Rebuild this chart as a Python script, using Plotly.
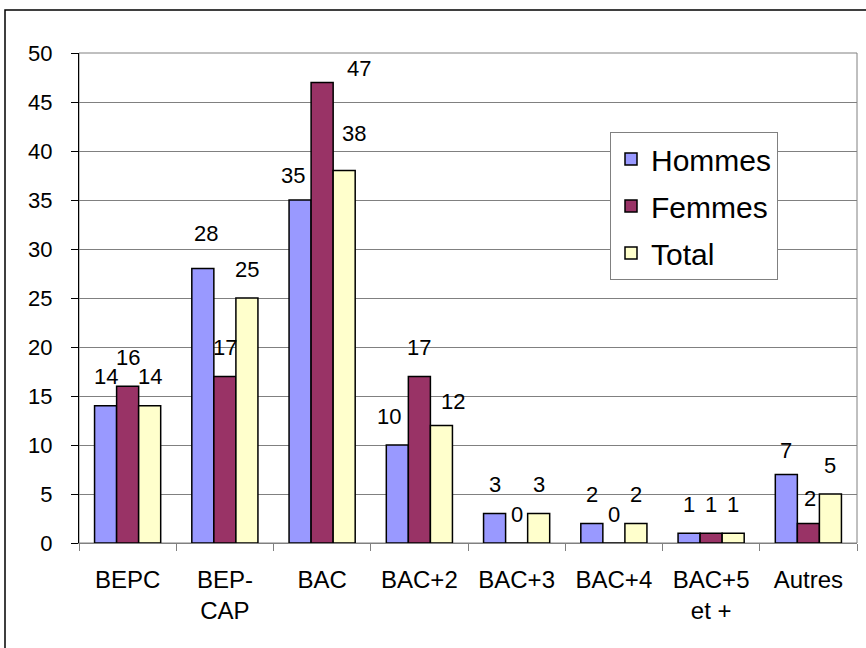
import plotly.graph_objects as go

categories = ["BEPC", "BEP-<br>CAP", "BAC", "BAC+2", "BAC+3", "BAC+4", "BAC+5<br>et +", "Autres"]
hommes = [14, 28, 35, 10, 3, 2, 1, 7]
femmes = [16, 17, 47, 17, 0, 0, 1, 2]
total = [14, 25, 38, 12, 3, 2, 1, 5]
series_names = ["Hommes", "Femmes", "Total"]
y_ticks = [0, 5, 10, 15, 20, 25, 30, 35, 40, 45, 50]

# label nudges (pixels) for data labels that were moved in the original: (category index, series index) -> (dx, dy)
label_nudges = {(1, 0): (3, 6), (2, 0): (-7, -4), (2, 1): (37, -15), (2, 2): (10, 8),
                (3, 0): (-8, 0), (3, 2): (12, -5), (7, 0): (0, -5), (7, 1): (2, -4)}

colors = ["#9999FF", "#993366", "#FFFFCC"]
FONT = "Liberation Sans, Arial, sans-serif"
W, H = 866, 648
L, R, T, B = 79, 9, 53, 105
PW, PH = W - L - R, H - T - B
BARGAP = 0.32

fig = go.Figure()
xs = list(range(len(categories)))
for k, (name, vals) in enumerate(zip(series_names, [hommes, femmes, total])):
    fig.add_trace(go.Bar(
        x=xs, y=vals, name=name, legendgroup=name,
        marker=dict(color=colors[k], line=dict(color="black", width=1.5)),
    ))

bw = (1 - BARGAP) / 3
annotations = []
for k, vals in enumerate([hommes, femmes, total]):
    for i, v in enumerate(vals):
        dx, dy = label_nudges.get((i, k), (0, 0))
        annotations.append(dict(
            x=i + (k - 1) * bw, y=v, xref="x", yref="y", text=str(v), showarrow=False,
            xanchor="center", yanchor="middle", xshift=dx, yshift=29 + dy,
            font=dict(family=FONT, size=22, color="black"),
        ))

def px_x(p):
    return (p - L) / PW

def px_y(p):
    return (H - B - p) / PH

shapes = [
    dict(type="rect", xref="paper", yref="paper", x0=0, x1=1, y0=0, y1=1,
         line=dict(color="#808080", width=1), layer="below"),
    dict(type="rect", xref="paper", yref="paper", x0=px_x(5), x1=px_x(872), y0=px_y(652), y1=px_y(10),
         line=dict(color="black", width=1.5), layer="below"),
]

fig.update_layout(
    width=W, height=H,
    margin=dict(l=L, r=R, t=T, b=B, pad=0),
    paper_bgcolor="white", plot_bgcolor="white",
    barmode="group", bargap=BARGAP, bargroupgap=0,
    font=dict(family=FONT, color="black"),
    annotations=annotations, shapes=shapes,
    legend=dict(
        x=px_x(610), y=px_y(132), xanchor="left", yanchor="top",
        bgcolor="white", bordercolor="#808080", borderwidth=1,
        font=dict(family=FONT, size=30, color="black"),
        traceorder="grouped", tracegroupgap=5,
    ),
    xaxis=dict(
        range=[-0.5, len(categories) - 0.5], tickmode="array", tickvals=xs, ticktext=categories,
        ticks="", showgrid=False, zeroline=False, showline=True, linecolor="#808080", linewidth=1,
        tickfont=dict(family=FONT, size=24, color="black"), ticklabelstandoff=15,
        minor=dict(tickmode="array", tickvals=[i - 0.5 for i in range(len(categories) + 1)],
                   ticks="outside", ticklen=7, tickcolor="#808080", tickwidth=1, showgrid=False),
        fixedrange=True,
    ),
    yaxis=dict(
        range=[0, 50], tickmode="array", tickvals=y_ticks,
        ticks="outside", ticklen=7, tickcolor="black", tickwidth=1,
        showgrid=True, gridcolor="#808080", gridwidth=1, zeroline=False,
        showline=True, linecolor="black", linewidth=1,
        tickfont=dict(family=FONT, size=22, color="black"), ticklabelstandoff=14,
        fixedrange=True,
    ),
)

fig.write_html("out.html", config={"displayModeBar": False},
               post_script="document.body.style.margin='0';document.body.style.overflow='hidden';")
